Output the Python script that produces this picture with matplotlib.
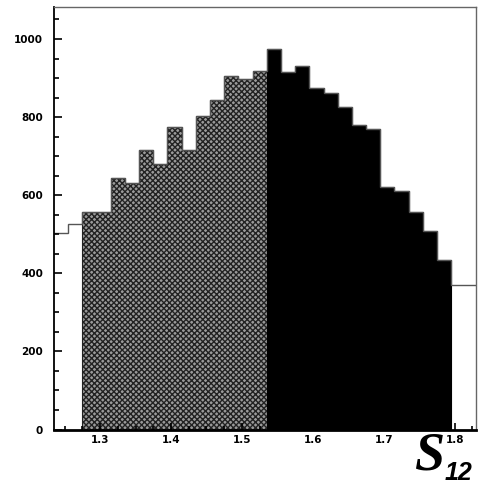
import numpy as np
import matplotlib
matplotlib.use("Agg")
import matplotlib.pyplot as plt
from matplotlib.ticker import MultipleLocator

bin_width = 0.02
start_edge = 1.235
left_outline = [504, 526]
hatched = [558, 558, 643, 632, 716, 681, 774, 716, 803, 844, 905, 898, 918]
black = [975, 915, 931, 874, 862, 825, 781, 769, 620, 612, 556, 508, 434]
right_outline = [370, 370]

all_vals = np.array(left_outline + hatched + black + right_outline, dtype=float)
edges = start_edge + bin_width * np.arange(len(all_vals) + 1)
n1 = len(left_outline)
n2 = n1 + len(hatched)
n3 = n2 + len(black)

plt.rcParams['hatch.linewidth'] = 1.0
fig = plt.figure(figsize=(4.8, 4.84), dpi=100)
ax = fig.add_axes([54/480, 1 - 429.5/484, 422/480, 422.5/484])

ax.stairs(hatched, edges[n1:n2 + 1], fill=True, facecolor='#9a9a9a',
          edgecolor='#222222', hatch='xxxxxx', linewidth=0.8)
ax.stairs(black, edges[n2:n3 + 1], fill=True, facecolor='black',
          edgecolor='black', linewidth=0.8)
ax.stairs(all_vals, edges, color='#555555', linewidth=1.0, baseline=None)

ax.set_xlim(1.235, 1.83)
ax.set_ylim(0, 1082)

ax.xaxis.set_major_locator(MultipleLocator(0.1))
ax.xaxis.set_minor_locator(MultipleLocator(0.025))
ax.yaxis.set_major_locator(MultipleLocator(200))
ax.yaxis.set_minor_locator(MultipleLocator(50))
ax.tick_params(axis='both', which='both', direction='in', top=False, right=False,
               labelsize=7.5, width=1.2)
ax.tick_params(axis='y', which='major', length=6, pad=8)
ax.tick_params(axis='y', which='minor', length=3.6)
ax.tick_params(axis='x', which='major', length=5, pad=4)
ax.tick_params(axis='x', which='minor', length=2.8)
ax.set_xticks([1.3, 1.4, 1.5, 1.6, 1.7, 1.8])
ax.set_xticklabels(['1.3', '1.4', '1.5', '1.6', '1.7', '1.8'], fontweight='heavy')
ax.set_yticks([0, 200, 400, 600, 800, 1000])
ax.set_yticklabels(['0', '200', '400', '600', '800', '1000'], fontweight='heavy')

ax.spines['bottom'].set_linewidth(2.0)
ax.spines['left'].set_linewidth(1.3)
for s in ['top', 'right']:
    ax.spines[s].set_color('#666666')
    ax.spines[s].set_linewidth(1.0)

fig.text(414/480, 1 - 470/484, 'S', fontsize=39, fontweight='bold', style='italic',
         family=['Liberation Serif', 'DejaVu Serif'], ha='left', va='baseline')
fig.text(445/480, 1 - 480/484, '12', fontsize=18, fontweight='bold', style='italic',
         family=['Liberation Sans', 'DejaVu Sans'], ha='left', va='baseline')

fig.savefig('out.png', dpi=100, facecolor='white')
